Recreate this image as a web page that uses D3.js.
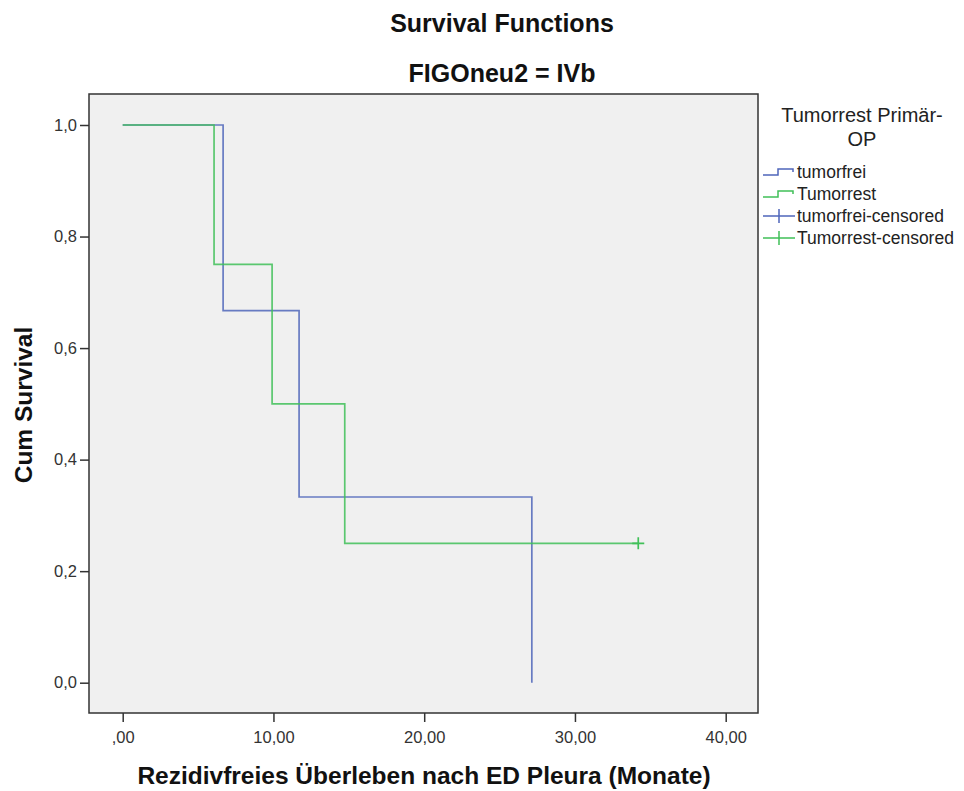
<!DOCTYPE html>
<html>
<head>
<meta charset="utf-8">
<script src="https://cdn.jsdelivr.net/npm/d3@7"></script>
<style>
  html, body { margin: 0; padding: 0; background: #ffffff; }
  svg { display: block; }
  text { font-family: "Liberation Sans", Arial, sans-serif; }
</style>
</head>
<body>
<svg id="chart" width="964" height="791"></svg>
<script>
// Kaplan-Meier step data (time in months, cumulative survival)
const tumorfreiTimes = [0, 6.66, 11.70, 27.14];
const tumorfreiSurv  = [1.0, 0.667, 0.333, 0.0];
const tumorrestTimes = [0, 6.06, 9.91, 14.73, 34.20];
const tumorrestSurv  = [1.0, 0.75, 0.50, 0.25, 0.25];
// censored observations
const tumorrestCensTimes = [34.20];
const tumorrestCensSurv  = [0.25];

const xTicks = [0, 10, 20, 30, 40];
const xTickLabels = [",00", "10,00", "20,00", "30,00", "40,00"];
const yTicks = [0, 0.2, 0.4, 0.6, 0.8, 1.0];
const yTickLabels = ["0,0", "0,2", "0,4", "0,6", "0,8", "1,0"];

const legendLabels = ["tumorfrei", "Tumorrest", "tumorfrei-censored", "Tumorrest-censored"];
const seriesColors = ["#4f66ba", "#40c058"];

const FONT = "'Liberation Sans', Arial, sans-serif";
const svg = d3.select("#chart");

// plot frame
const frame = { left: 89, top: 94, right: 758, bottom: 713 };

const x = d3.scaleLinear().domain([0, 40]).range([122.7, 725.7]);
const y = d3.scaleLinear().domain([0, 1]).range([682.7, 125]);

svg.append("rect")
  .attr("x", frame.left).attr("y", frame.top)
  .attr("width", frame.right - frame.left)
  .attr("height", frame.bottom - frame.top)
  .attr("fill", "#f0f0f0");

// titles
svg.append("text").attr("x", 502).attr("y", 32)
  .attr("text-anchor", "middle").attr("font-size", 25).attr("font-weight", "bold")
  .attr("fill", "#111").text("Survival Functions");
svg.append("text").attr("x", 502).attr("y", 82)
  .attr("text-anchor", "middle").attr("font-size", 25).attr("font-weight", "bold")
  .attr("fill", "#111").text("FIGOneu2 = IVb");

// axes
const xAxis = d3.axisBottom(x).tickValues(xTicks)
  .tickFormat((d, i) => xTickLabels[i]).tickSize(9).tickPadding(9);
const gx = svg.append("g").attr("transform", `translate(0,${frame.bottom})`).call(xAxis);
gx.select(".domain").remove();
gx.selectAll(".tick line").attr("stroke", "#333").attr("stroke-width", 1.5);
gx.selectAll(".tick text").attr("font-size", 16.5).attr("fill", "#333")
  .attr("font-family", FONT);

const yAxis = d3.axisLeft(y).tickValues(yTicks)
  .tickFormat((d, i) => yTickLabels[i]).tickSize(9).tickPadding(3);
const gy = svg.append("g").attr("transform", `translate(${frame.left},0)`).call(yAxis);
gy.select(".domain").remove();
gy.selectAll(".tick line").attr("stroke", "#333").attr("stroke-width", 1.5);
gy.selectAll(".tick text").attr("font-size", 16.5).attr("fill", "#333")
  .attr("font-family", FONT);

// axis titles
svg.append("text").attr("x", 424).attr("y", 784)
  .attr("text-anchor", "middle").attr("font-size", 24.5).attr("font-weight", "bold")
  .attr("fill", "#111").text("Rezidivfreies Überleben nach ED Pleura (Monate)");
svg.append("text")
  .attr("transform", "translate(32,405) rotate(-90)")
  .attr("text-anchor", "middle").attr("font-size", 24.5).attr("font-weight", "bold")
  .attr("fill", "#111").text("Cum Survival");

// survival curves
const line = d3.line().x(d => x(d[0])).y(d => y(d[1])).curve(d3.curveStepAfter);
const series = [
  d3.zip(tumorfreiTimes, tumorfreiSurv),
  d3.zip(tumorrestTimes, tumorrestSurv)
];
series.forEach((pts, i) => {
  svg.append("path").datum(pts)
    .attr("d", line)
    .attr("fill", "none")
    .attr("stroke", seriesColors[i])
    .attr("stroke-width", 1.7)
    .attr("stroke-opacity", 0.85);
});

// censor marks
d3.zip(tumorrestCensTimes, tumorrestCensSurv).forEach(([t, s]) => {
  svg.append("path")
    .attr("d", `M${x(t) - 6},${y(s)}H${x(t) + 6}M${x(t)},${y(s) - 6}V${y(s) + 6}`)
    .attr("stroke", seriesColors[1]).attr("stroke-width", 1.7).attr("fill", "none");
});

// frame border
svg.append("rect")
  .attr("x", frame.left).attr("y", frame.top)
  .attr("width", frame.right - frame.left)
  .attr("height", frame.bottom - frame.top)
  .attr("fill", "none").attr("stroke", "#333").attr("stroke-width", 1.5);

// legend
const lg = svg.append("g");
lg.append("text").attr("x", 862).attr("y", 122)
  .attr("text-anchor", "middle").attr("font-size", 20).attr("fill", "#222")
  .text("Tumorrest Primär-");
lg.append("text").attr("x", 862).attr("y", 146)
  .attr("text-anchor", "middle").attr("font-size", 20).attr("fill", "#222")
  .text("OP");

const legendY = [172, 194, 216, 238];
legendLabels.forEach((lab, i) => {
  const cy = legendY[i];
  const col = seriesColors[i % 2];
  if (i < 2) {
    lg.append("path")
      .attr("d", `M763,${cy + 3}H778V${cy - 3}H793V${cy}`)
      .attr("fill", "none").attr("stroke", col).attr("stroke-width", 1.5);
  } else {
    lg.append("path")
      .attr("d", `M763,${cy}H795M779,${cy - 7}V${cy + 7}`)
      .attr("fill", "none").attr("stroke", col).attr("stroke-width", 1.5);
  }
  lg.append("text").attr("x", 797).attr("y", cy + 6)
    .attr("font-size", 17.5).attr("fill", "#222").text(lab);
});
</script>
</body>
</html>
